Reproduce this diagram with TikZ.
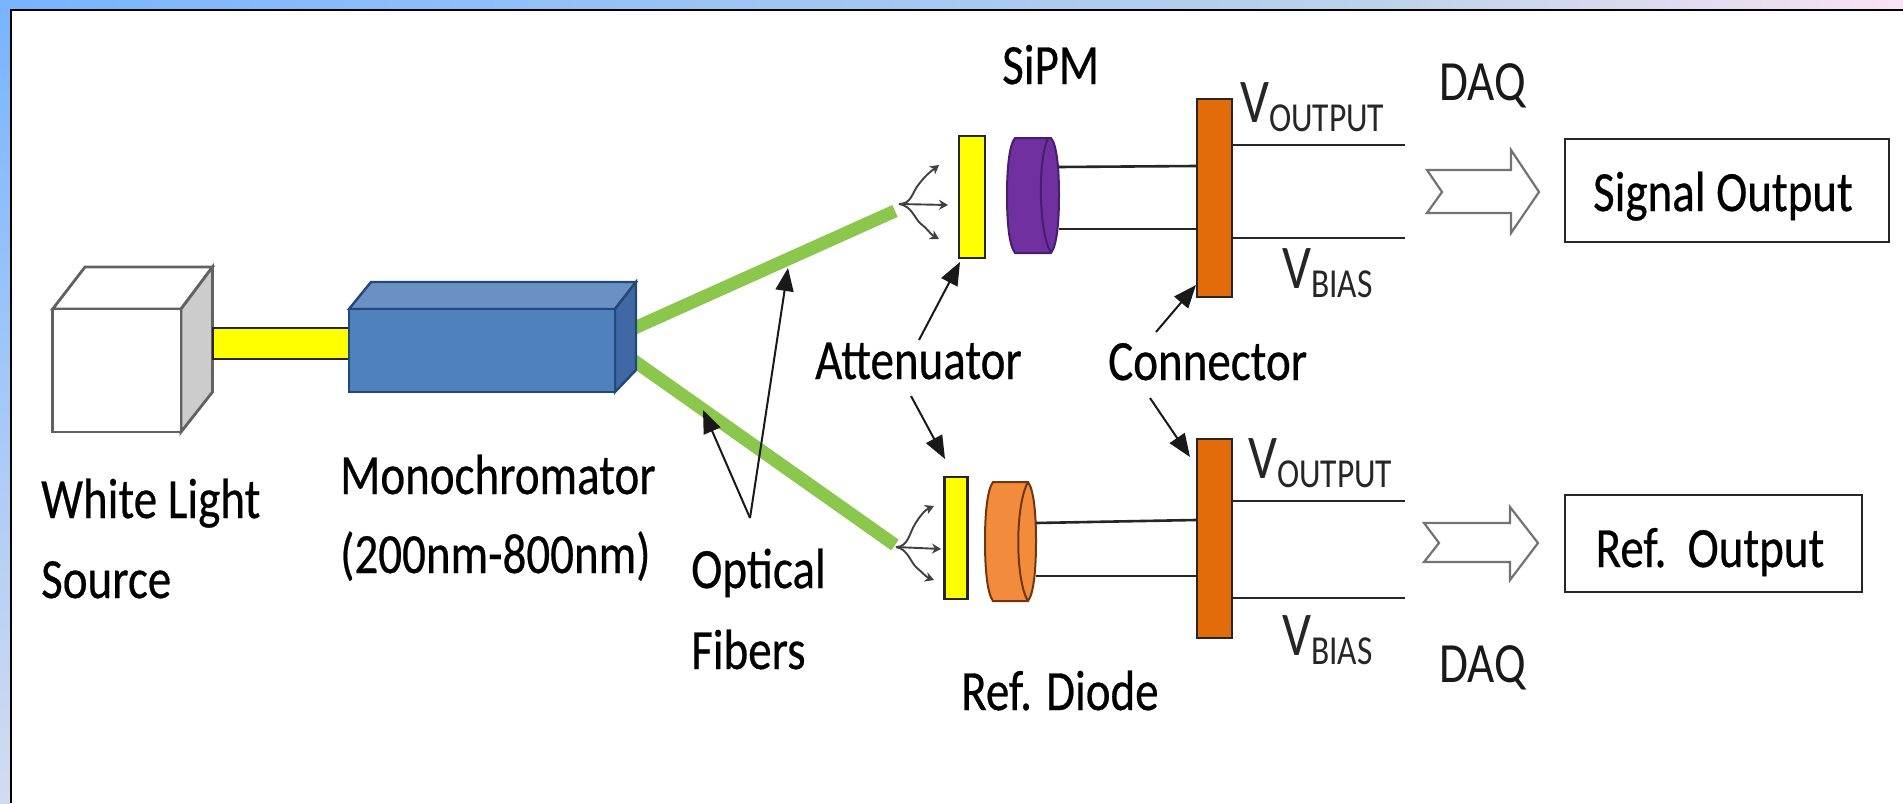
\documentclass[tikz,border=0pt]{standalone}
\usepackage{fontspec}
\usepackage{graphicx}
\setmainfont{Carlito}
\newfontfamily\boldish[FakeBold=0.5]{Carlito}
\usetikzlibrary{arrows.meta}
\newcommand\tallt[1]{\scalebox{1}[1.21]{#1}}
\newcommand\voltlab[1]{\scalebox{1}[1.22]{\fontsize{51}{51}\selectfont V}\raisebox{-9pt}{\scalebox{1}[1.23]{\fontsize{33.5}{33.5}\selectfont #1}}}
\definecolor{fibregreen}{HTML}{8BC74C}
\definecolor{orangeb}{HTML}{E36C0A}
\definecolor{topblue}{HTML}{78B4FF}
\definecolor{topmid}{HTML}{BCD2EA}
\definecolor{toppink}{HTML}{FAE2F4}
\definecolor{lowblue}{HTML}{D2DCF0}
\definecolor{brightyellow}{RGB}{255,255,0}
\definecolor{monotop}{RGB}{106,144,196}
\definecolor{monoside}{RGB}{63,104,164}
\definecolor{monofront}{RGB}{79,129,189}
\definecolor{monoedge}{RGB}{35,72,122}
\definecolor{sipmfill}{RGB}{112,48,160}
\definecolor{sipmedge}{RGB}{70,30,110}
\definecolor{diodefill}{RGB}{243,139,60}
\definecolor{diodeedge}{RGB}{110,55,15}
\pgfdeclarehorizontalshading{stripshade}{100bp}{color(0bp)=(topblue);color(25bp)=(topblue);color(61bp)=(topmid);color(75bp)=(toppink);color(100bp)=(toppink)}
\tikzset{
  lab/.style={inner sep=0pt,anchor=base west,font=\boldish\fontsize{47}{47}\selectfont,text=black},
  thinlab/.style={inner sep=0pt,anchor=base west,font=\fontsize{47}{47}\selectfont,text=black!90},
  voltage/.style={inner sep=0pt,anchor=base west,text=black!85},
  fibre/.style={draw=fibregreen,line width=13pt},
  callout/.style={draw=black!90,line width=2pt,-{Triangle[length=23pt,width=18pt]}},
  wire/.style={draw=black!85,line width=2.6pt},
  edgebox/.style={draw=black!85,line width=2.4pt},
  cubeface/.style={draw=black!62,line width=2.8pt,line join=miter},
  monoface/.style={draw=monoedge,line width=2.4pt},
  fat/.style={draw=black!55,line width=2.2pt,fill=white,line join=miter},
  spray/.style={draw=black!75,line width=1.9pt,-{Stealth[length=9pt,width=10pt]}},
  outbox/.style={edgebox,inner sep=0pt,fill=white,text depth=0pt,font=\boldish\fontsize{47}{47}\selectfont},
}
\begin{document}
\begin{tikzpicture}[x=1pt,y=-1pt]
\useasboundingbox (0,0) rectangle (1903,803);
\fill[white] (0,0) rectangle (1903,803);
% frame strips
\shade[shading=stripshade] (0,0) rectangle (1903,10);
\shade[top color=topblue,bottom color=lowblue] (0,0) rectangle (10,803);
\draw[black,line width=2pt] (11,803) -- (11,10) -- (1903,10);
% white light source
\coordinate (cubeA) at (52.7,309); \coordinate (cubeB) at (181,309);
\coordinate (cubeC) at (181,432); \coordinate (cubeE) at (85,267);
\coordinate (cubeF) at (212.5,267); \coordinate (cubeG) at (212.5,392);
\filldraw[fill=white,cubeface] (cubeA) -- (cubeE) -- (cubeF) -- (cubeB) -- cycle;
\filldraw[fill=black!20,cubeface] (cubeB) -- (cubeF) -- (cubeG) -- (cubeC) -- cycle;
\filldraw[fill=white,cubeface] (cubeA) rectangle (cubeC);
% yellow guide
\filldraw[fill=brightyellow,edgebox] (213,328) rectangle (349,359);
% fibres
\coordinate (fibA) at (630,330); \coordinate (fibAend) at (895,211);
\coordinate (fibB) at (630,358); \coordinate (fibBend) at (895,545);
\draw[fibre] (fibA) -- (fibAend);
\draw[fibre] (fibB) -- (fibBend);
% monochromator
\coordinate (monoA) at (349,309); \coordinate (monoB) at (615,309);
\coordinate (monoC) at (615,392); \coordinate (monoE) at (371,282);
\coordinate (monoF) at (636,282); \coordinate (monoG) at (636,370);
\filldraw[fill=monotop,monoface] (monoA) -- (monoE) -- (monoF) -- (monoB) -- cycle;
\filldraw[fill=monoside,monoface] (monoB) -- (monoF) -- (monoG) -- (monoC) -- cycle;
\filldraw[fill=monofront,monoface] (monoA) rectangle (monoC);
% attenuators
\node[fill=brightyellow,edgebox,minimum width=26pt,minimum height=122pt,inner sep=0pt] (attA) at (972,197) {};
\node[fill=brightyellow,edgebox,minimum width=23pt,minimum height=122pt,inner sep=0pt] (attB) at (956,538) {};
% SiPM
\filldraw[fill=sipmfill,draw=sipmedge,line width=2pt]
  (1015,138) -- (1051,138) .. controls (1057,145) and (1059,170) .. (1059,195) .. controls (1059,222) and (1057,245) .. (1051,253)
  -- (1015,253) .. controls (1009,245) and (1007,222) .. (1007,195) .. controls (1007,170) and (1009,145) .. (1015,138) -- cycle;
\draw[draw=sipmedge,line width=2pt] (1048,138) .. controls (1038,160) and (1038,230) .. (1051,253);
% Ref diode
\filldraw[fill=diodefill,draw=diodeedge,line width=2pt]
  (993,482) -- (1028,482) .. controls (1034,490) and (1036,515) .. (1036,541) .. controls (1036,568) and (1034,593) .. (1028,601)
  -- (993,601) .. controls (987,593) and (985,568) .. (985,541) .. controls (985,515) and (987,490) .. (993,482) -- cycle;
\draw[draw=diodeedge,line width=2pt] (1028,482) .. controls (1015,505) and (1015,580) .. (1028,601);
% connectors
\node[fill=orangeb,edgebox,minimum width=35pt,minimum height=198pt,inner sep=0pt] (connA) at (1214.5,198) {};
\node[fill=orangeb,edgebox,minimum width=35pt,minimum height=199pt,inner sep=0pt] (connB) at (1214.5,538.5) {};
% wires
\coordinate (sipmU) at (1059,167); \coordinate (sipmL) at (1059,229);
\coordinate (diodeU) at (1036,523); \coordinate (diodeL) at (1036,576);
\draw[wire] (sipmU) -- (connA.west |- 0,166);
\draw[wire] (sipmL) -- (connA.west |- sipmL);
\draw[wire] (diodeU) -- (connB.west |- 0,520);
\draw[wire] (diodeL) -- (connB.west |- diodeL);
\coordinate (outAU) at (1405,145); \coordinate (outAL) at (1405,238);
\coordinate (outBU) at (1405,501); \coordinate (outBL) at (1405,598);
\draw[wire] (connA.east |- outAU) -- (outAU);
\draw[wire] (connA.east |- outAL) -- (outAL);
\draw[wire] (connB.east |- outBU) -- (outBU);
\draw[wire] (connB.east |- outBL) -- (outBL);
% spray arrows
\coordinate (sprA) at (899,204);
\draw[spray] (sprA) .. controls (912,204) and (912,192) .. (919,184) .. controls (925,176) and (930,172) .. (939,165);
\draw[spray] (sprA) -- (948,205);
\draw[spray] (sprA) .. controls (912,206) and (914,218) .. (921,224) .. controls (927,228) and (930,234) .. (939,239);
\coordinate (sprB) at (896,547);
\draw[spray] (sprB) .. controls (908,547) and (909,534) .. (915,524) .. controls (920,516) and (925,510) .. (934,506);
\draw[spray] (sprB) -- (941,549);
\draw[spray] (sprB) .. controls (908,549) and (910,562) .. (917,568) .. controls (922,572) and (926,577) .. (934,580);
% DAQ arrows
\filldraw[fat] (1427,170) -- (1511,170) -- (1511,150) -- (1539,192) -- (1511,233) -- (1511,213) -- (1427,213) -- (1442,192) -- cycle;
\filldraw[fat] (1424,523) -- (1510,523) -- (1510,507) -- (1538,543) -- (1510,580) -- (1510,562) -- (1424,562) -- (1439,543) -- cycle;
% output boxes
\node[outbox,minimum width=324pt,minimum height=103pt,text height=41pt] (sig) at (1727,190.5) {\hspace*{-8pt}\tallt{Signal Output}};
\node[outbox,minimum width=297pt,minimum height=97pt,text height=47pt] (ref) at (1713.5,543.5) {\hspace*{-7pt}\tallt{Ref.\ \ Output}};
% labels
\node[lab] (tWhite) at (41,518) {\tallt{White Light}};
\node[lab] (tSource) at (41,598) {\tallt{Source}};
\node[lab] (tMono) at (340,494) {\tallt{Monochromator}};
\node[lab] (tRange) at (340,573) {\tallt{(200nm-800nm)}};
\node[lab] (tOpt) at (691,588) {\tallt{Optical}};
\node[lab] (tFib) at (691,669) {\tallt{Fibers}};
\node[lab] (tAtt) at (815,379) {\tallt{Attenuator}};
\node[lab] (tCon) at (1108,380) {\tallt{Connector}};
\node[lab] (tSipm) at (1002,84) {\tallt{SiPM}};
\node[lab] (tDiode) at (961,710) {\tallt{Ref. Diode}};
\node[thinlab] (tDaqA) at (1439,100) {\tallt{DAQ}};
\node[thinlab] (tDaqB) at (1439,682) {\tallt{DAQ}};
\node[voltage] (vOutA) at (1240,122) {\voltlab{OUTPUT}};
\node[voltage] (vOutB) at (1248,478) {\voltlab{OUTPUT}};
\node[voltage] (vBiasA) at (1282,288) {\voltlab{BIAS}};
\node[voltage] (vBiasB) at (1282,655) {\voltlab{BIAS}};
% callouts
\coordinate (fibreUp) at (788,268); \coordinate (fibreLow) at (703,410);
\coordinate (optTop) at (750,518);
\draw[callout] (optTop) -- (fibreUp);
\draw[callout] (optTop) -- (fibreLow);
\coordinate (attUp) at (919,340); \coordinate (attLow) at (911,396);
\coordinate (conUp) at (1156,332); \coordinate (conLow) at (1150,398);
\draw[callout] (attUp) -- (960,262);
\draw[callout] (conUp) -- (1196,285);
\draw[callout] (attLow) -- (945,459);
\draw[callout] (conLow) -- (1190,457);
\end{tikzpicture}
\end{document}
